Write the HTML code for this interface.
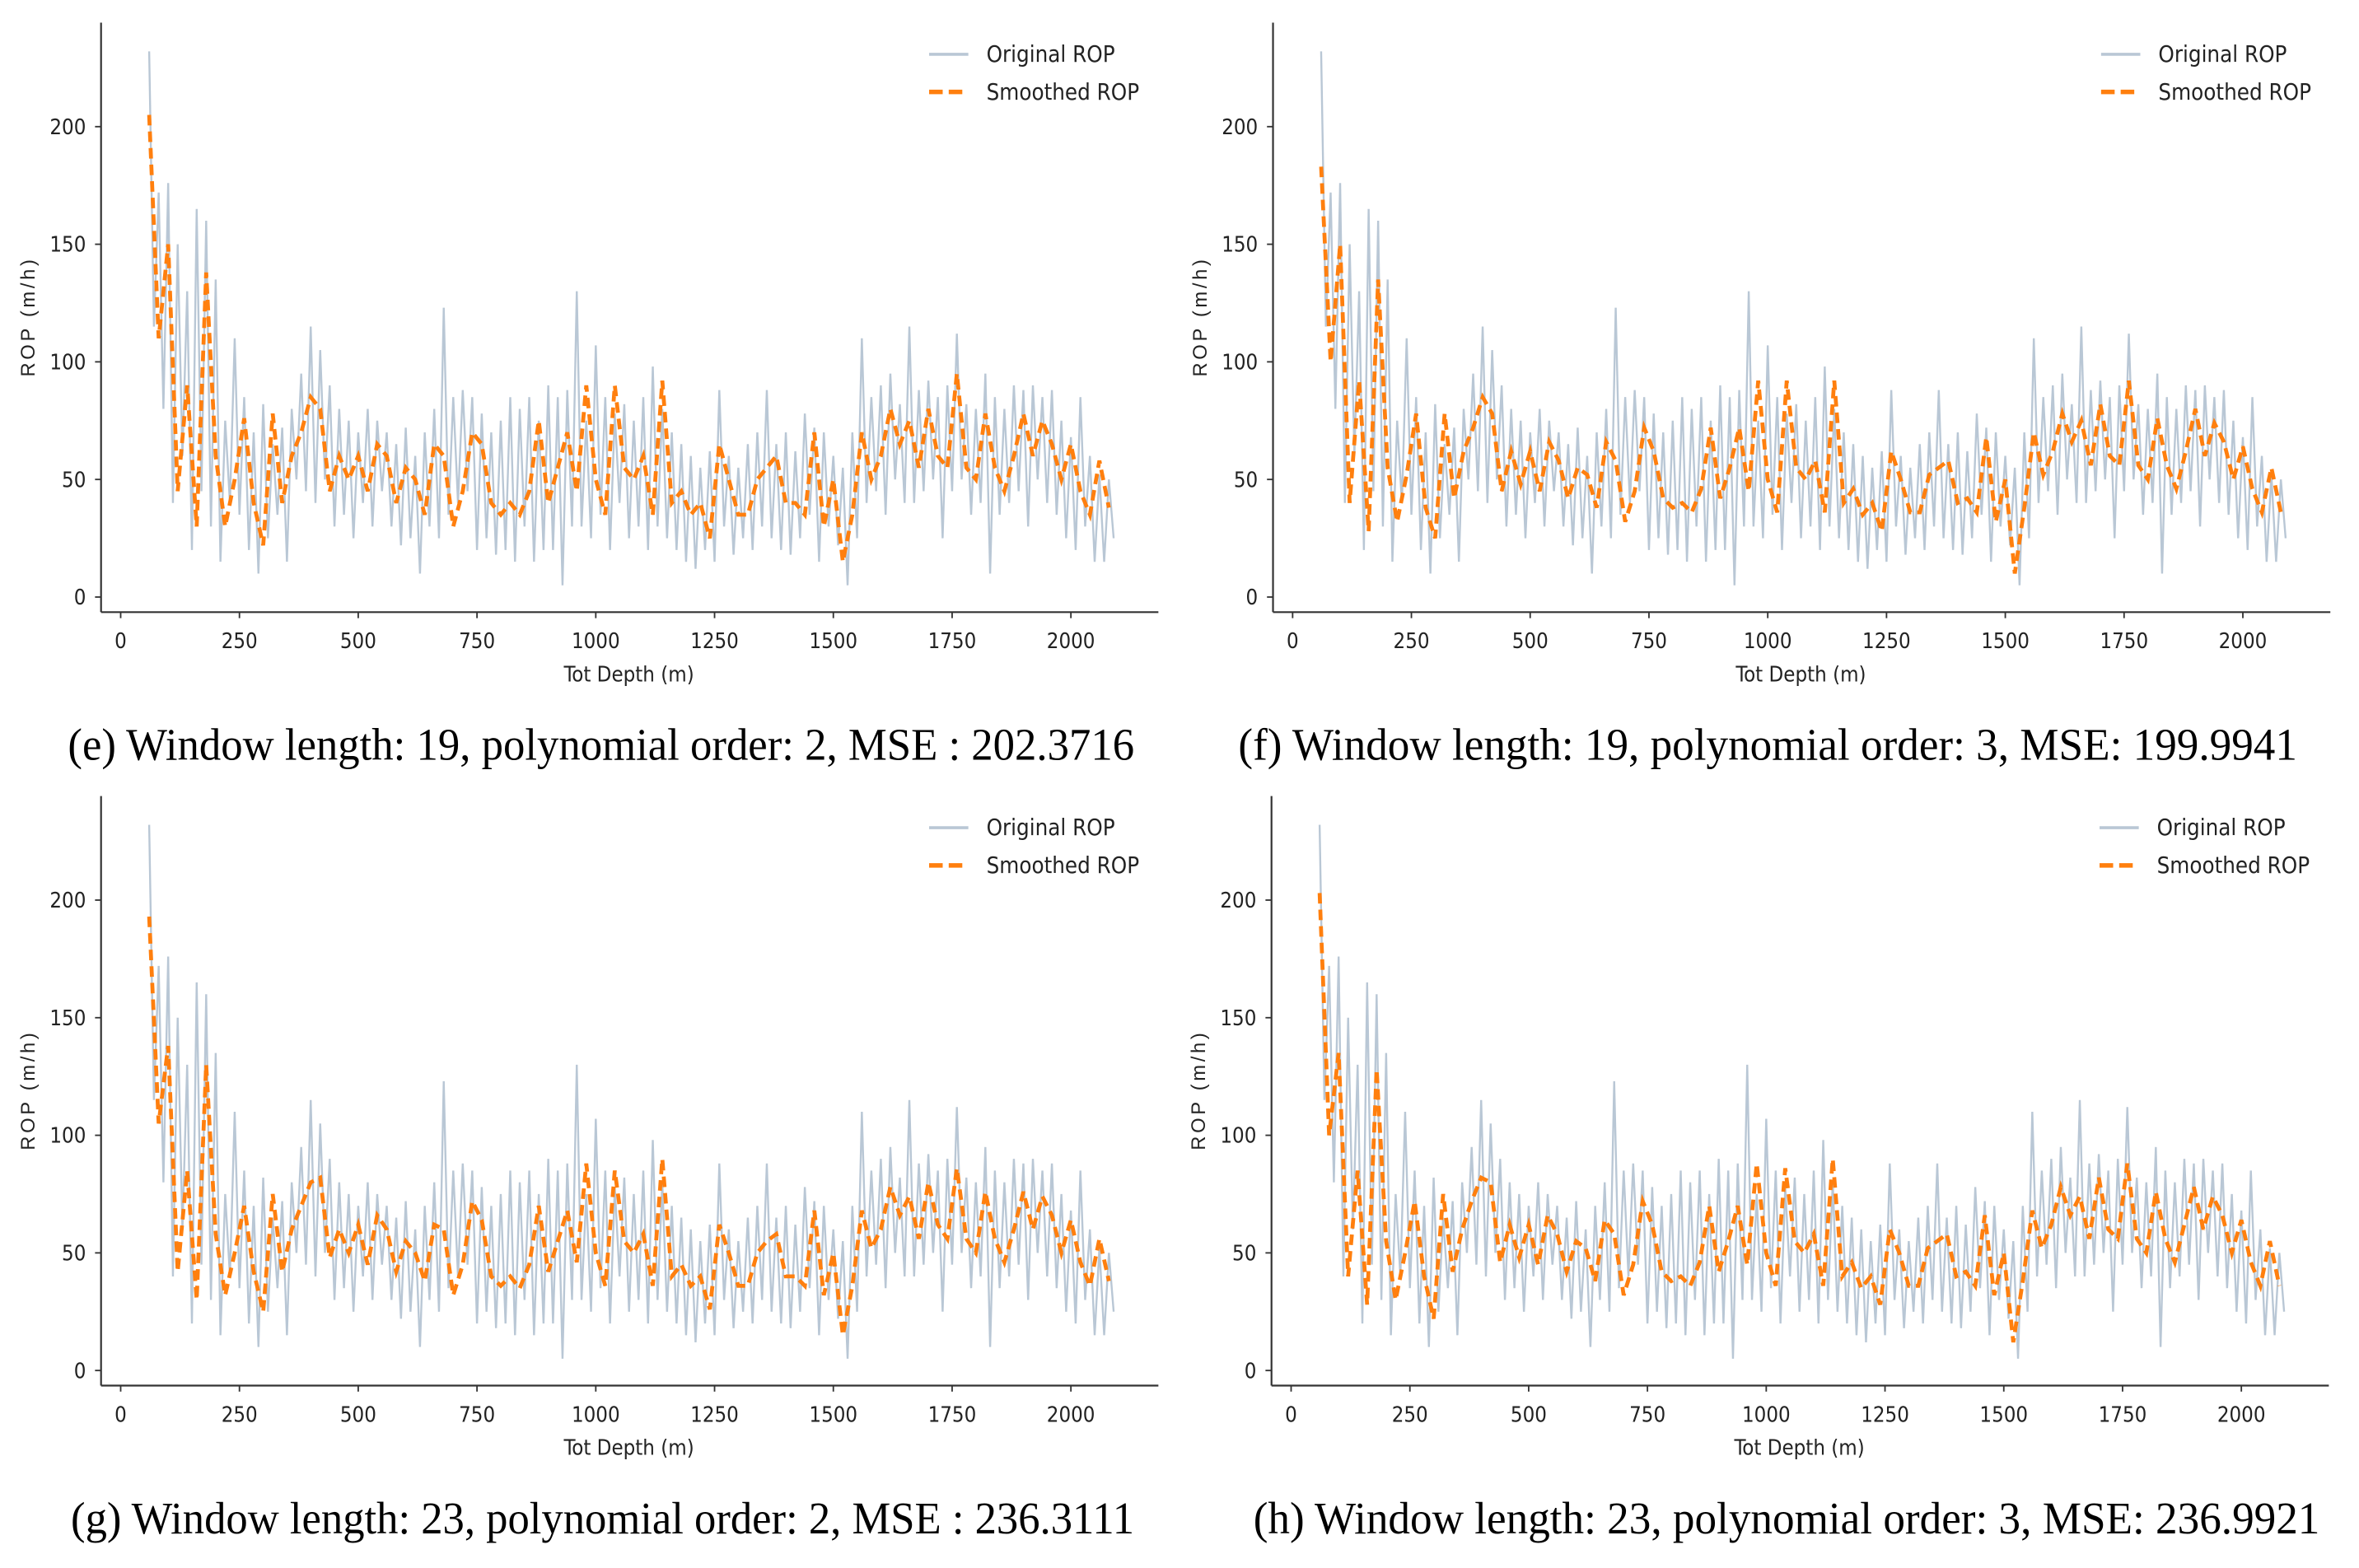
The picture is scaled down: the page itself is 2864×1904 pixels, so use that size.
<!DOCTYPE html>
<html><head><meta charset="utf-8"><style>
html,body{margin:0;padding:0;background:#fff;}
svg{display:block;}
</style></head><body>
<svg id="chart" width="2864" height="1904" viewBox="0 0 1564 1040" preserveAspectRatio="none" xmlns="http://www.w3.org/2000/svg"></svg>
<script>
const xTicks=[0,250,500,750,1000,1250,1500,1750,2000];
const yTicks=[0,50,100,150,200];
const origStart=60, origStep=10;
const original=[232,115,172,80,176,40,150,60,130,20,
165,45,160,30,135,15,75,40,110,35,
85,20,70,10,82,25,65,35,72,15,
80,50,95,45,115,40,105,50,90,30,
80,35,75,25,70,40,80,30,75,45,
70,30,65,22,72,25,60,10,70,30,
80,25,123,35,85,40,88,45,85,20,
78,25,70,18,75,20,85,15,80,30,
85,15,75,20,90,20,85,5,88,30,
130,30,75,25,107,35,85,20,78,40,
82,25,75,30,85,20,98,30,80,25,
70,20,65,15,60,12,55,20,62,15,
88,30,60,18,55,25,65,20,70,30,
88,25,65,20,70,18,62,25,78,35,
72,15,70,30,60,22,55,5,70,25,
110,40,85,45,90,35,95,50,82,40,
115,40,88,45,92,50,85,25,90,45,
112,50,82,35,80,40,95,10,85,35,
80,40,90,45,88,30,90,50,85,40,
88,35,75,25,68,20,85,30,60,15,
52,15,50,25];
const smoothStart=60, smoothStep=20;
const smoothE=[205,110,150,45,90,30,138,60,30,50,76,40,22,78,40,60,70,85,80,45,60,50,60,45,65,60,40,55,50,35,65,60,30,45,70,65,40,35,40,35,45,75,40,55,70,45,90,50,35,90,55,50,60,35,92,40,45,35,40,25,65,50,35,35,50,55,60,40,40,35,70,30,50,15,35,70,50,60,80,65,75,55,80,60,55,95,55,50,78,55,45,60,78,60,75,65,50,65,45,35,58,38];
const smoothF=[183,100,150,40,92,28,135,55,32,52,78,38,25,78,42,62,72,85,78,45,62,48,62,45,66,58,42,55,52,38,66,58,32,45,72,62,42,38,40,36,46,72,42,55,72,45,92,50,36,92,55,50,58,36,92,40,46,35,40,28,62,50,36,36,52,55,58,40,42,36,68,32,50,10,38,70,52,62,78,66,75,56,82,60,56,92,56,50,76,56,46,62,80,60,74,66,50,64,46,36,55,36];
const smoothG=[193,105,138,42,85,30,130,58,32,50,70,42,25,75,42,60,70,80,82,48,60,50,62,45,66,60,42,55,50,38,62,60,32,45,72,64,40,36,40,35,45,70,42,55,68,46,88,50,36,85,55,50,58,36,90,40,45,36,40,26,62,50,36,36,50,55,58,40,40,36,68,32,50,15,36,68,52,60,78,66,74,56,80,62,56,86,56,50,76,56,46,60,76,60,74,66,50,64,46,36,56,38];
const smoothH=[203,100,135,40,85,28,128,55,30,50,72,40,22,75,42,60,72,82,80,46,62,48,62,45,66,58,42,55,52,38,64,58,32,45,72,62,42,38,40,36,46,70,42,55,70,45,88,50,36,86,55,50,58,36,90,40,46,35,40,28,60,50,36,36,52,55,58,40,42,36,66,32,50,12,38,68,52,62,78,66,74,56,82,60,56,88,56,50,76,56,46,62,78,60,74,66,50,64,46,36,55,36];
const panels=[
 {key:'e',dx:0,dy:0,smooth:smoothE,cap:'(e) Window length:  19, polynomial order: 2, MSE : 202.3716',cx0:45,cx1:752},
 {key:'f',dx:777,dy:0,smooth:smoothF,cap:'(f) Window length:  19, polynomial order:  3, MSE: 199.9941',cx0:821,cx1:1523},
 {key:'g',dx:0,dy:513,smooth:smoothG,cap:'(g) Window length: 23, polynomial order: 2, MSE : 236.3111',cx0:47,cx1:752},
 {key:'h',dx:776,dy:513,smooth:smoothH,cap:'(h) Window length: 23, polynomial order: 3, MSE: 236.9921',cx0:831,cx1:1538}
];
const NS='http://www.w3.org/2000/svg';
const svg=document.getElementById('chart');
function mk(tag,attrs,parent){const e=document.createElementNS(NS,tag);for(const k in attrs)e.setAttribute(k,attrs[k]);parent.appendChild(e);return e;}
const tickFont='"DejaVu Sans Condensed","DejaVu Sans","Liberation Sans",sans-serif';
panels.forEach(p=>{
 const X=d=>p.dx+80+d*0.315;
 const Y=v=>p.dy+396-v*1.56;
 const g=mk('g',{},svg);
 
 
 // original
 let d='';original.forEach((v,i)=>{d+=(i?'L':'M')+X(origStart+i*origStep).toFixed(2)+','+Y(v).toFixed(2);});
 const o=mk('path',{d:d,fill:'none',stroke:'#b9c7d5','stroke-width':1.3},g);
 
 
 d='';p.smooth.forEach((v,i)=>{d+=(i?'L':'M')+X(smoothStart+i*smoothStep).toFixed(2)+','+Y(v).toFixed(2);});
 const s=mk('path',{d:d,fill:'none',stroke:'#ff7f0e','stroke-width':2.6,'stroke-dasharray':'7,4'},g);
 
 
 // axes
 const ya=mk('line',{x1:p.dx+67,y1:p.dy+15,x2:p.dx+67,y2:p.dy+406,stroke:'#333','stroke-width':1.2},g);
 
 
 const xa=mk('line',{x1:p.dx+67,y1:p.dy+406,x2:p.dx+768,y2:p.dy+406,stroke:'#333','stroke-width':1.2},g);
 
 
 xTicks.forEach(t=>{
  mk('line',{x1:X(t),y1:p.dy+406,x2:X(t),y2:p.dy+410,stroke:'#333'},g);
  const tx=mk('text',{x:X(t),y:p.dy+430,'text-anchor':'middle','font-size':14,'font-family':tickFont,fill:'#222'},g);
  tx.textContent=t;
  
  
 });
 yTicks.forEach(t=>{
  mk('line',{x1:p.dx+63,y1:Y(t),x2:p.dx+67,y2:Y(t),stroke:'#333'},g);
  const tx=mk('text',{x:p.dx+57,y:Y(t)+5,'text-anchor':'end','font-size':14,'font-family':tickFont,fill:'#222'},g);
  tx.textContent=t;
  
  
 });
 const xl=mk('text',{x:p.dx+417,y:p.dy+452,'text-anchor':'middle','font-size':14,'font-family':tickFont,fill:'#222'},g);
 xl.textContent='Tot Depth (m)';
 
 
 const yl=mk('text',{x:0,y:0,transform:'translate('+(p.dx+23)+','+(p.dy+210)+') rotate(-90)','text-anchor':'middle','font-size':13,'letter-spacing':'2','font-family':'"Liberation Sans",sans-serif',fill:'#222'},g);
 yl.textContent='ROP (m/h)';
 
 
 // legend
 const lg=mk('g',{},g);
 
 
 mk('line',{x1:p.dx+616,y1:p.dy+36,x2:p.dx+642,y2:p.dy+36,stroke:'#b9c7d5','stroke-width':2},lg);
 mk('line',{x1:p.dx+616,y1:p.dy+61,x2:p.dx+642,y2:p.dy+61,stroke:'#ff7f0e','stroke-width':3,'stroke-dasharray':'9,4'},lg);
 const l1=mk('text',{x:p.dx+654,y:p.dy+41,'font-size':15,'font-family':tickFont,fill:'#222'},lg);
 l1.textContent='Original ROP';
 
 
 const l2=mk('text',{x:p.dx+654,y:p.dy+66,'font-size':15,'font-family':tickFont,fill:'#222'},lg);
 l2.textContent='Smoothed ROP';
 
 
 // caption
 const c=mk('text',{x:p.cx0,y:p.dy+504,'font-size':30,'font-family':'"Liberation Serif",serif',fill:'#000',textLength:p.cx1-p.cx0,lengthAdjust:'spacingAndGlyphs'},g);
 c.textContent=p.cap;
 
 
});
</script>
</body></html>
